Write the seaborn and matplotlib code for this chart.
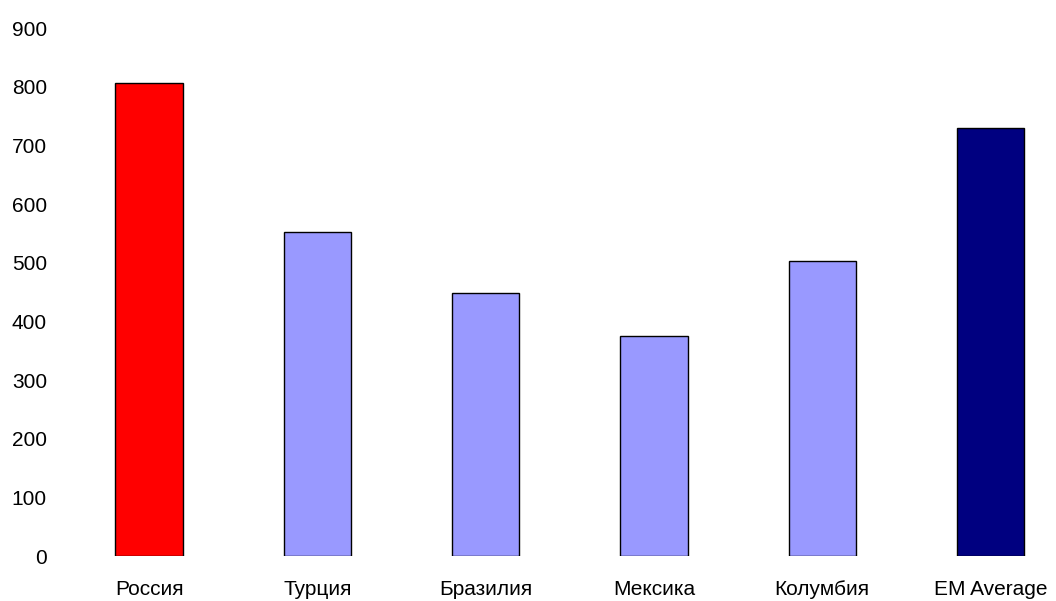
import matplotlib
matplotlib.use("Agg")
import matplotlib.pyplot as plt
import seaborn as sns
import pandas as pd

categories = ["Россия", "Турция", "Бразилия", "Мексика", "Колумбия", "EM Average"]
values = [807, 552, 448, 375, 503, 729]
colors = ["#FF0000", "#9999FF", "#9999FF", "#9999FF", "#9999FF", "#000080"]
y_ticks = [0, 100, 200, 300, 400, 500, 600, 700, 800, 900]

sns.set_style("white")
plt.rcParams["font.family"] = ["Liberation Sans", "DejaVu Sans"]

df = pd.DataFrame({"country": categories, "value": values})

fig = plt.figure(figsize=(10.56, 6.01), dpi=100)
ax = fig.add_axes([65 / 1056, 45 / 601, (1056 - 65) / 1056, 528 / 601])

sns.barplot(
    data=df, x="country", y="value", hue="country",
    palette=dict(zip(categories, colors)), order=categories, saturation=1,
    width=0.4, edgecolor="black", linewidth=1.0, legend=False, ax=ax,
)

ax.set_xlim(-0.5, 5.389)
ax.set_ylim(0, 900)
ax.set_yticks(y_ticks)
ax.set_xlabel("")
ax.set_ylabel("")
for side in ["top", "right", "left", "bottom"]:
    ax.spines[side].set_visible(False)
ax.tick_params(axis="y", length=0, pad=13, labelsize=15, labelcolor="black")
ax.tick_params(axis="x", length=0, pad=17, labelsize=15, labelcolor="black")
ax.grid(False)

fig.savefig("out.png", dpi=100)
